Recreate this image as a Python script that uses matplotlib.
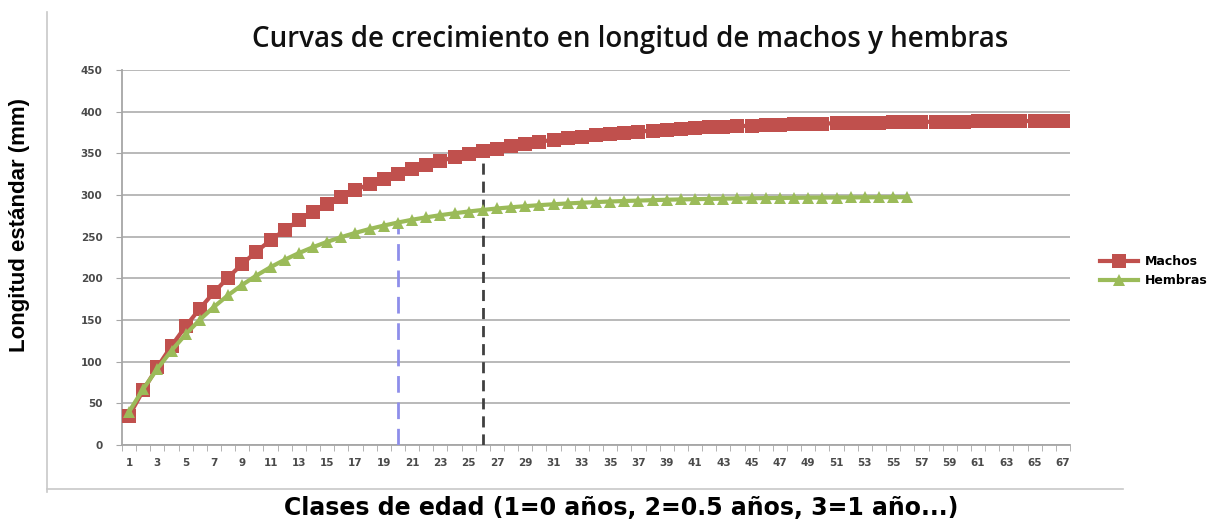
import matplotlib
matplotlib.use("Agg")
import matplotlib.pyplot as plt
from matplotlib.lines import Line2D
from matplotlib.ticker import FixedLocator

# ---- data ----
clases = list(range(1, 68))
machos = [35.0, 65.6, 93.5, 119.0, 142.4, 163.7, 183.2, 201.0, 217.3, 232.1,
          245.7, 258.1, 269.5, 279.9, 289.4, 298.0, 306.0, 313.2, 319.8, 325.8,
          331.4, 336.4, 341.0, 345.2, 349.1, 352.6, 355.8, 358.8, 361.5, 363.9,
          366.2, 368.2, 370.1, 371.8, 373.4, 374.8, 376.1, 377.3, 378.4, 379.4,
          380.3, 381.1, 381.9, 382.6, 383.2, 383.8, 384.3, 384.8, 385.3, 385.7,
          386.1, 386.4, 386.7, 387.0, 387.2, 387.5, 387.7, 387.9, 388.1, 388.2,
          388.4, 388.5, 388.6, 388.7, 388.8, 388.9, 389.0]
clases_h = list(range(1, 57))
hembras = [40.0, 67.2, 91.5, 113.3, 132.8, 150.3, 165.8, 179.8, 192.2, 203.4,
           213.4, 222.3, 230.3, 237.4, 243.8, 249.5, 254.6, 259.2, 263.3, 267.0,
           270.3, 273.2, 275.8, 278.1, 280.2, 282.1, 283.8, 285.3, 286.6, 287.8,
           288.9, 289.9, 290.7, 291.5, 292.2, 292.8, 293.3, 293.8, 294.3, 294.7,
           295.0, 295.3, 295.6, 295.9, 296.1, 296.3, 296.5, 296.6, 296.8, 296.9,
           297.0, 297.1, 297.2, 297.3, 297.4, 297.4]
ref_hembras_x, ref_hembras_y = 20, 260
ref_machos_x, ref_machos_y = 26, 352
y_ticks = list(range(0, 451, 50))
x_tick_labels = list(range(1, 68, 2))

title = "Curvas de crecimiento en longitud de machos y hembras"
xlabel = "Clases de edad (1=0 años, 2=0.5 años, 3=1 año...)"
ylabel = "Longitud estándar (mm)"

RED = "#C0504D"
GREEN = "#9BBB59"
TICKFONT = ["DejaVu Sans"]

fig = plt.figure(figsize=(12.27, 5.19), dpi=100)
ax = fig.add_axes([122/1227, 1-445/519, (1070-122)/1227, (445-70)/519])

ax.plot(clases, machos, color=RED, lw=3, marker="s", ms=10,
        markeredgewidth=0, label="Machos", zorder=4)
ax.plot(clases_h, hembras, color=GREEN, lw=3, marker="^", ms=9,
        markeredgewidth=0, label="Hembras", zorder=5)

ax.vlines(ref_hembras_x, 0, ref_hembras_y, colors="#8E8EEA", lw=2,
          linestyles=(0, (6, 3.5)), zorder=3)
ax.vlines(ref_machos_x, 0, ref_machos_y, colors="#404040", lw=2,
          linestyles=(0, (4, 2.5)), zorder=3)

ax.set_xlim(0.5, 67.5)
ax.set_ylim(0, 450)
ax.set_yticks(y_ticks)
ax.set_xticks(x_tick_labels)
ax.set_xticklabels([str(v) for v in x_tick_labels])
ax.xaxis.set_minor_locator(FixedLocator([k + 0.5 for k in range(0, 68)]))
ax.tick_params(axis="x", which="major", length=0, pad=9, labelsize=7.5,
               labelcolor="#4a4a4a")
ax.tick_params(axis="x", which="minor", length=4, color="#A6A6A6", direction="out")
ax.tick_params(axis="y", which="major", length=4, color="#A6A6A6", pad=10,
               labelsize=7.5, labelcolor="#4a4a4a")
for lab in ax.get_xticklabels() + ax.get_yticklabels():
    lab.set_fontweight("bold")
    lab.set_family(TICKFONT)

ax.grid(axis="y", color="#B3B3B3", lw=1.3)
ax.set_axisbelow(True)
for s in ["top", "right"]:
    ax.spines[s].set_visible(False)
for s in ["left", "bottom"]:
    ax.spines[s].set_color("#A6A6A6")
    ax.spines[s].set_linewidth(1.3)

fig.text(630/1227, 1-40/519, title, ha="center", va="center",
         fontsize=20, family=["Open Sans", "DejaVu Sans"], fontweight="semibold",
         color="#111111")
fig.text(621/1227, 1-508/519, xlabel, ha="center", va="center",
         fontsize=17, fontweight="bold", family=["DejaVu Sans"])
fig.text(20/1227, 1-225/519, ylabel, ha="center", va="center", rotation=90,
         fontsize=16, fontweight="bold",
         family=["Liberation Sans Narrow", "Liberation Sans", "DejaVu Sans"])

fig.legend(loc="center left", bbox_to_anchor=(1100/1227, 1-271/519),
           frameon=False, prop={"weight": "bold", "size": 9,
                                "family": ["DejaVu Sans"]},
           handlelength=3.0, labelspacing=0.5, handletextpad=0.6,
           borderpad=0, borderaxespad=0)

# faint outer chart-area border
fig.add_artist(Line2D([47/1227, 47/1227], [1-12/519, 1-492/519],
                      color="#C8C8C8", lw=1.2, transform=fig.transFigure))
fig.add_artist(Line2D([47/1227, 1123/1227], [1-489/519, 1-489/519],
                      color="#C8C8C8", lw=1.2, transform=fig.transFigure))

fig.savefig("out.png", dpi=100)
